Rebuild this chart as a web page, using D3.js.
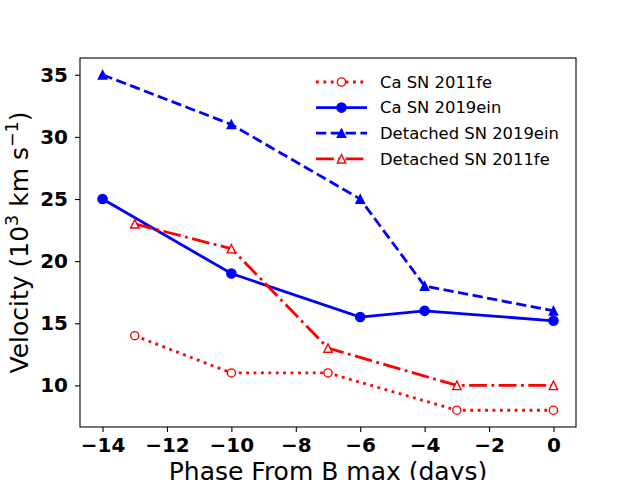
<!DOCTYPE html>
<html>
<head>
<meta charset="utf-8">
<script src="https://cdn.jsdelivr.net/npm/d3@7"></script>
<style>
body { margin: 0; background: #fff; }
svg { font-family: "DejaVu Sans", sans-serif; }
</style>
</head>
<body>
<script>
// phases (days from B max) and velocities (10^3 km/s)
var phase_11fe = [-13, -10, -7, -3, 0];
var phase_19ein = [-14, -10, -6, -4, 0];
var ca_11fe = [14, 11, 11, 8, 8];
var ca_19ein = [25, 19, 15.5, 16, 15.2];
var det_19ein = [35, 31, 25, 18, 16];
var det_11fe = [23, 21, 13, 10, 10];

var x_ticks = [-14, -12, -10, -8, -6, -4, -2, 0];
var y_ticks = [10, 15, 20, 25, 30, 35];

var series = [
	{name: 'Ca SN 2011fe', xs: phase_11fe, ys: ca_11fe, color: 'red', dash: '2.8,4.6', marker: 'circle', filled: false},
	{name: 'Ca SN 2019ein', xs: phase_19ein, ys: ca_19ein, color: 'blue', dash: null, marker: 'circle', filled: true},
	{name: 'Detached SN 2019ein', xs: phase_19ein, ys: det_19ein, color: 'blue', dash: '10.3,4.5', marker: 'triangle', filled: true},
	{name: 'Detached SN 2011fe', xs: phase_11fe, ys: det_11fe, color: 'red', dash: '17.8,4.5,2.8,4.5', marker: 'triangle', filled: false}
];

var width = 640, height = 480;
var ax_left = 80, ax_right = 576, ax_top = 58, ax_bottom = 427;

var svg = d3.select('body').append('svg').attr('width', width).attr('height', height);

var x = d3.scaleLinear().domain([-14.7, 0.7]).range([ax_left, ax_right]);
var y = d3.scaleLinear().domain([6.65, 36.35]).range([ax_bottom, ax_top]);

// axes
var xaxis = svg.append('g').attr('transform', 'translate(0,' + ax_bottom + ')')
	.call(d3.axisBottom(x).tickValues(x_ticks).tickSize(5).tickPadding(6).tickFormat(d => d < 0 ? '\u2212' + Math.abs(d) : d));
var yaxis = svg.append('g').attr('transform', 'translate(' + ax_left + ',0)')
	.call(d3.axisLeft(y).tickValues(y_ticks).tickSize(5).tickPadding(7));
[xaxis, yaxis].forEach(function(g) {
	g.select('.domain').remove();
	g.selectAll('line').attr('stroke', '#000').attr('stroke-width', 1.1);
	g.selectAll('text').attr('fill', '#000').attr('font-size', '20px').attr('font-weight', 'bold')
		.attr('font-family', '"DejaVu Sans", sans-serif');
});

svg.append('rect').attr('x', ax_left).attr('y', ax_top).attr('width', ax_right - ax_left).attr('height', ax_bottom - ax_top)
	.attr('fill', 'none').attr('stroke', '#000').attr('stroke-width', 1.1);

// markers
function draw_marker(g, s, cx, cy) {
	var fill = s.filled ? s.color : '#fff';
	if (s.marker == 'circle') {
		g.append('circle').attr('cx', cx).attr('cy', cy).attr('r', s.filled ? 4.6 : 4.1)
			.attr('fill', fill).attr('stroke', s.color).attr('stroke-width', 1.4);
	} else {
		var r = 4.2;
		g.append('path').attr('d', 'M' + cx + ',' + (cy - r) + 'L' + (cx + r) + ',' + (cy + r) + 'L' + (cx - r) + ',' + (cy + r) + 'Z')
			.attr('fill', fill).attr('stroke', s.color).attr('stroke-width', 1.4).attr('stroke-linejoin', 'miter');
	}
}

var line = d3.line().x(d => x(d[0])).y(d => y(d[1]));
var plot = svg.append('g');
series.forEach(function(s) {
	var pts = s.xs.map((v, i) => [v, s.ys[i]]);
	plot.append('path').datum(pts).attr('d', line).attr('fill', 'none')
		.attr('stroke', s.color).attr('stroke-width', 2.8).attr('stroke-dasharray', s.dash)
		.attr('stroke-linecap', 'butt');
	pts.forEach(p => draw_marker(plot, s, x(p[0]), y(p[1])));
});

// legend
var legend = svg.append('g');
series.forEach(function(s, i) {
	var ly = 82 + i * 25.6;
	legend.append('line').attr('x1', 316).attr('x2', 367).attr('y1', ly).attr('y2', ly)
		.attr('stroke', s.color).attr('stroke-width', 2.8).attr('stroke-dasharray', s.dash);
	draw_marker(legend, s, 341.5, ly);
	legend.append('text').attr('x', 380).attr('y', ly).attr('dy', '0.35em')
		.attr('font-size', '16.4px').attr('fill', '#000').text(s.name);
});

// labels
svg.append('text').attr('x', (ax_left + ax_right) / 2).attr('y', 480).attr('text-anchor', 'middle')
	.attr('font-size', '25px').attr('fill', '#000').text('Phase From B max (days)');

var ylab = svg.append('text').attr('transform', 'translate(28,' + ((ax_top + ax_bottom) / 2) + ') rotate(-90)')
	.attr('text-anchor', 'middle').attr('font-size', '25px').attr('fill', '#000');
ylab.append('tspan').text('Velocity (10');
ylab.append('tspan').attr('font-size', '17.5px').attr('dy', '-10').text('3');
ylab.append('tspan').attr('dy', '10').text(' km s');
ylab.append('tspan').attr('font-size', '17.5px').attr('dy', '-10').text('\u22121');
ylab.append('tspan').attr('dy', '10').text(')');
</script>
</body>
</html>
